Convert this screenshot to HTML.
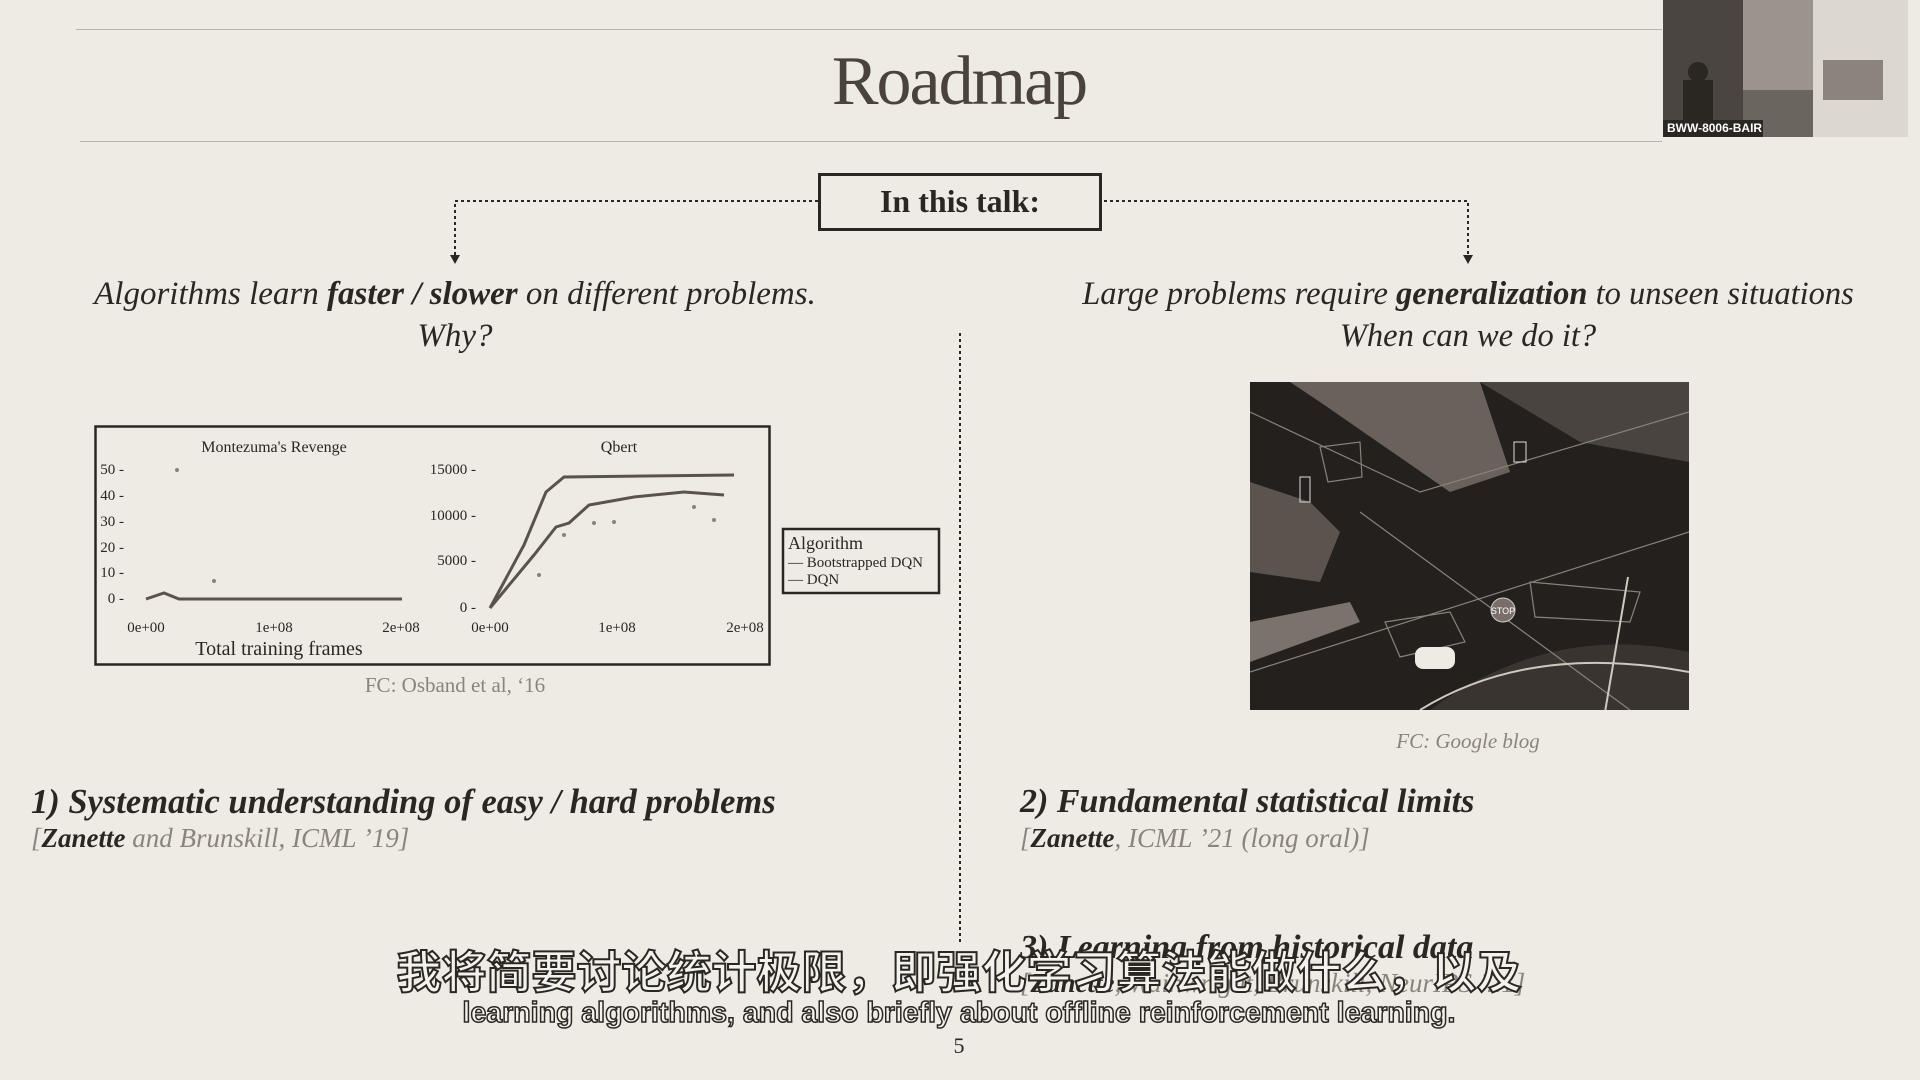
<!DOCTYPE html>
<html><head><meta charset="utf-8"><style>
body{margin:0;width:1920px;height:1080px;background:#eeebe4;position:relative;overflow:hidden;font-family:"Liberation Serif",serif;color:#2a2622}
.a{position:absolute;white-space:nowrap}
.c{transform:translateX(-50%)}
.it{font-style:italic}
</style></head><body>
<div class="a" style="left:76px;top:29px;width:1586px;border-top:1px solid #b8b3aa"></div>
<div class="a" style="left:80px;top:141px;width:1582px;border-top:1px solid #b8b3aa"></div>
<div class="a c" style="left:959px;top:42px;font-size:70px;color:#4a433d;letter-spacing:-2px">Roadmap</div>
<svg class="a" style="left:1663px;top:0" width="245" height="137"><rect width="245" height="137" fill="#6b6560"/><rect x="0" y="0" width="80" height="137" fill="#4a4540"/><rect x="80" y="0" width="70" height="90" fill="#9a948c"/><rect x="150" y="0" width="95" height="137" fill="#ddd8cf"/><rect x="160" y="60" width="60" height="40" fill="#8a847c"/><circle cx="35" cy="72" r="10" fill="#2a2622"/><rect x="20" y="80" width="30" height="45" fill="#2a2622"/><rect x="0" y="120" width="100" height="17" fill="#2a2622"/><text x="4" y="132" font-family="Liberation Sans" font-size="12" fill="#fff" font-weight="bold">BWW-8006-BAIR</text></svg>
<div class="a" style="left:818px;top:173px;width:278px;height:52px;border:3px solid #2a2622"></div>
<div class="a c" style="left:960px;top:183px;font-size:32px;font-weight:bold">In this talk:</div>
<svg class="a" style="left:0;top:0" width="1920" height="1080">
<g stroke="#2a2622" stroke-width="2" stroke-dasharray="3,3" fill="none">
<path d="M818 201 H455 V256"/><path d="M1104 201 H1468 V256"/>
<path d="M960 333 V945"/>
</g>
<path d="M450 255 L460 255 L455 264Z" fill="#2a2622"/><path d="M1463 255 L1473 255 L1468 264Z" fill="#2a2622"/>
</svg>
<div class="a c it" style="left:455px;top:273px;font-size:33px;text-align:center;line-height:42px">Algorithms learn <b>faster / slower</b> on different problems.<br>Why?</div>
<div class="a c it" style="left:1468px;top:273px;font-size:32.5px;text-align:center;line-height:42px">Large problems require <b>generalization</b> to unseen situations<br>When can we do it?</div>
<svg class="a" style="left:94px;top:425px" width="850" height="245" font-family="Liberation Serif" fill="#2a2622">
<rect x="1.5" y="1.5" width="674" height="238" fill="#eeebe4" stroke="#2a2622" stroke-width="2.5"/>
<text x="180" y="27" font-size="16" text-anchor="middle">Montezuma's Revenge</text>
<text x="525" y="27" font-size="16" text-anchor="middle">Qbert</text>
<g font-size="15" text-anchor="end"><text x="30" y="49">50 -</text><text x="30" y="75">40 -</text><text x="30" y="101">30 -</text><text x="30" y="127">20 -</text><text x="30" y="152">10 -</text><text x="30" y="178">0 -</text>
<text x="382" y="49">15000 -</text><text x="382" y="95">10000 -</text><text x="382" y="140">5000 -</text><text x="382" y="187">0 -</text></g>
<g font-size="15" text-anchor="middle"><text x="52" y="207">0e+00</text><text x="180" y="207">1e+08</text><text x="307" y="207">2e+08</text><text x="396" y="207">0e+00</text><text x="523" y="207">1e+08</text><text x="651" y="207">2e+08</text></g>
<text x="185" y="230" font-size="20" text-anchor="middle">Total training frames</text>
<g stroke="#5a524c" stroke-width="3" fill="none">
<path d="M52 174 L70 168 L85 174 L308 174"/>
<path d="M396 183 L430 120 L452 67 L470 52 L640 50"/>
<path d="M396 183 L440 130 L462 102 L475 98 L495 80 L540 72 L590 67 L630 70"/>
</g>
<g fill="#8a827a"><circle cx="83" cy="45" r="2"/><circle cx="120" cy="156" r="2"/><circle cx="500" cy="98" r="2"/><circle cx="520" cy="97" r="2"/><circle cx="600" cy="82" r="2"/><circle cx="620" cy="95" r="2"/><circle cx="470" cy="110" r="2"/><circle cx="445" cy="150" r="2"/></g>
<rect x="689" y="104" width="156" height="64" fill="#eeebe4" stroke="#2a2622" stroke-width="2.5"/>
<text x="694" y="124" font-size="18">Algorithm</text>
<text x="694" y="142" font-size="15">— Bootstrapped DQN</text>
<text x="694" y="159" font-size="15">— DQN</text>
</svg>
<div class="a c" style="left:455px;top:673px;font-size:21px;color:#8a847c">FC: Osband et al, ‘16</div>
<svg class="a" style="left:1250px;top:382px" width="439" height="328">
<rect width="439" height="328" fill="#23201e"/>
<path d="M40 0 L230 0 L260 90 L200 110 L70 20Z" fill="#6a615b"/>
<path d="M0 100 L60 120 L90 150 L70 200 L0 190Z" fill="#5a534e"/>
<path d="M0 240 L100 220 L110 240 L0 280Z" fill="#7a726b"/>
<path d="M230 0 L439 0 L439 80 L330 60Z" fill="#4a4440"/>
<path d="M180 328 Q300 240 439 270 L439 328Z" fill="#3a3430"/>
<g stroke="#8a827a" fill="none" stroke-width="1.2">
<path d="M0 30 L170 110 L439 30"/><path d="M110 130 L380 328"/><path d="M0 290 L439 150"/>
<path d="M280 200 L390 210 L380 240 L285 235Z"/><path d="M135 240 L200 230 L215 260 L150 275Z"/>
<path d="M70 65 L110 60 L112 95 L78 100Z"/>
</g>
<path d="M170 328 Q280 260 439 290" stroke="#cfc8be" stroke-width="2" fill="none"/>
<path d="M355 330 L378 195" stroke="#cfc8be" stroke-width="2"/>
<rect x="165" y="265" width="40" height="22" rx="8" fill="#eeebe4"/>
<circle cx="253" cy="228" r="12" fill="#7a6f68" stroke="#ccc" /><text x="253" y="232" font-size="9" fill="#fff" text-anchor="middle" font-family="Liberation Sans">STOP</text>
<rect x="50" y="95" width="10" height="25" fill="none" stroke="#ddd"/><rect x="264" y="60" width="12" height="20" fill="none" stroke="#ddd"/>
</svg>
<div class="a c it" style="left:1468px;top:729px;font-size:21px;color:#8a847c">FC: Google blog</div>
<div class="a it" style="left:31px;top:783px;font-size:34.5px;font-weight:bold">1) Systematic understanding of easy / hard problems</div>
<div class="a it" style="left:31px;top:823px;font-size:27px;color:#8a847c">[<b style="color:#2a2622">Zanette</b> and Brunskill, ICML ’19]</div>
<div class="a it" style="left:1020px;top:783px;font-size:34px;font-weight:bold">2) Fundamental statistical limits</div>
<div class="a it" style="left:1020px;top:823px;font-size:27px;color:#8a847c">[<b style="color:#2a2622">Zanette</b>, ICML ’21 (long oral)]</div>
<div class="a it" style="left:1020px;top:929px;font-size:34px;font-weight:bold">3) Learning from historical data</div>
<div class="a it" style="left:1020px;top:968px;font-size:27px;color:#8a847c">[<b style="color:#2a2622">Zanette</b>, Wainwright, Brunskill, NeurIPS ’21]</div>
<div class="a c" style="left:959px;top:936px;font-size:45px;font-family:'Liberation Sans','Noto Sans CJK SC',sans-serif;color:#f4f2ee;-webkit-text-stroke:2px #2a2622;font-weight:bold">我将简要讨论统计极限，即强化学习算法能做什么，以及</div>
<div class="a c" style="left:959px;top:997px;font-size:28.5px;font-family:'Liberation Sans',sans-serif;color:#f4f2ee;-webkit-text-stroke:1.5px #2a2622;font-weight:bold">learning algorithms, and also briefly about offline reinforcement learning.</div>
<div class="a c" style="left:959px;top:1033px;font-size:22px">5</div>
</body></html>
